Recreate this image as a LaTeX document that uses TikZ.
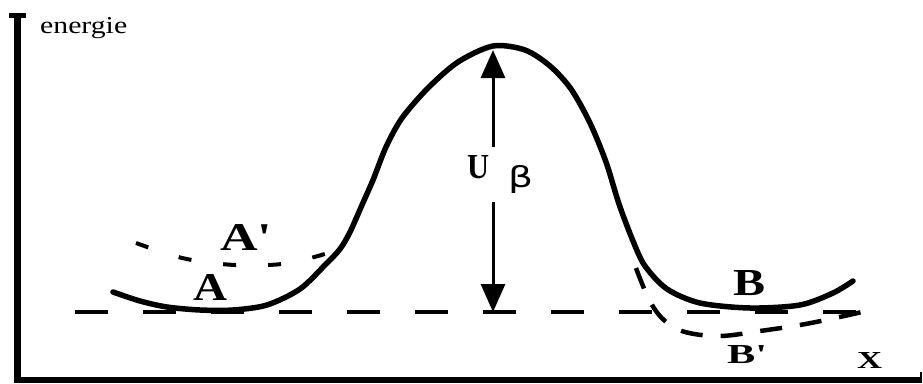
\documentclass[tikz,border=0pt]{standalone}
\usepackage{graphicx}
\usepackage{fontspec}
\setmainfont{Liberation Serif}
\newfontfamily\greekfont{DejaVu Sans}
\usetikzlibrary{arrows.meta}
\begin{document}
\begin{tikzpicture}[x=1pt,y=-1pt,
  axis/.style={line width=6.5pt, line join=miter},
  curve/.style={line width=5.5pt, line cap=round, line join=round},
  basedash/.style={line width=4pt, dash pattern=on 33pt off 35pt},
  wellA/.style={line width=4pt, dash pattern=on 13pt off 32pt},
  wellB/.style={line width=4.5pt, dash pattern=on 22pt off 18pt},
  uarrow/.style={line width=3pt, -{Triangle[length=28pt,width=24pt]}},
  lbl/.style={inner sep=0pt, anchor=base west}
]
\useasboundingbox (0,0) rectangle (923,383);

% axes
\coordinate (ytop) at (17.5,13);
\coordinate (origin) at (17.5,380);
\coordinate (xend) at (921,380);
\draw[axis, {Rectangle[length=5pt,width=17pt]}-] (ytop) -- (origin) -- (xend);
\coordinate (tickb) at (921,383);
\coordinate (tickt) at (921,372);
\draw[line width=1.5pt] (tickb) -- (tickt);

% base dashed line
\coordinate (bl) at (75,312);
\coordinate (br) at (860,312);
\draw[basedash] (bl) -- (br);

% main curve
\draw[curve] plot[smooth, tension=0.5] coordinates {
 (113,292) (140,301) (167,307) (200,310) (233,310) (267,305) (300,289)
 (325,265) (340,249) (350,232) (362,205) (373,180) (386,147) (402,118)
 (428,88) (458,62) (493,46) (525,50) (550,66) (571,89) (590,123)
 (606,162) (619,204) (633,241) (645,266) (667,289) (700,303) (750,308)
 (800,305) (833,293) (853,281)};

% A' dashed well
\draw[wellA] plot[smooth, tension=0.6] coordinates {
 (136,243) (165,253) (192,260) (235,265) (282,264) (318,256) (338,249)};

% B' dashed well
\draw[wellB] plot[smooth, tension=0.6] coordinates {
 (636,268) (643,286) (652,305) (665,321) (685,332) (720,336)
 (760,331) (800,325) (835,318) (862,312)};

% U beta arrow
\coordinate (peak) at (493,50);
\coordinate (base) at (493,312);
\coordinate (ut) at (493,147);
\coordinate (ubm) at (493,202);
\draw[uarrow] (ut) -- (peak);
\draw[uarrow] (ubm) -- (base);

% labels
\node[lbl] (en) at (40,33) {\resizebox{87pt}{16pt}{energie}};
\node[lbl] (la) at (193,300) {\resizebox{34pt}{26pt}{\bfseries A}};
\node[lbl] (lap) at (220,250) {\resizebox{52pt}{26pt}{\bfseries A\textquotesingle}};
\node[lbl] (lb) at (733,295) {\resizebox{32pt}{25pt}{\bfseries B}};
\node[lbl] (lbp) at (727,363) {\resizebox{40pt}{18pt}{\bfseries B\textquotesingle}};
\node[lbl] (lx) at (857,368) {\resizebox{25pt}{16pt}{\bfseries X}};
\node[lbl] (ub) at (467,178) {\resizebox{22pt}{23pt}{\bfseries U}\hspace{19pt}\raisebox{-9pt}{\resizebox*{25pt}{28pt}{\greekfont β}}};
\end{tikzpicture}
\end{document}
